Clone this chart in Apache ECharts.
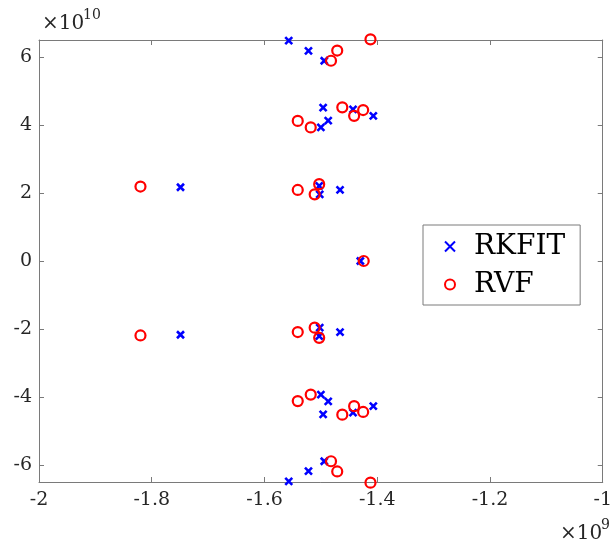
<!DOCTYPE html>
<html>
<head>
<meta charset="utf-8">
<script src="https://cdn.jsdelivr.net/npm/echarts@6/dist/echarts.min.js"></script>
<style>
  html, body { margin: 0; padding: 0; background: #fff; }
  #chart { width: 615px; height: 545px; }
</style>
</head>
<body>
<div id="chart"></div>
<script>
// real part in units of 1e9, imaginary part in units of 1e10
const rkfitRe = [-1.557, -1.522, -1.494, -1.496, -1.443, -1.407, -1.487, -1.500,
  -1.749, -1.503, -1.502, -1.466, -1.430,
  -1.749, -1.503, -1.502, -1.466,
  -1.500, -1.487, -1.496, -1.443, -1.407, -1.494, -1.522, -1.557]
const rkfitIm = [6.48, 6.18, 5.89, 4.51, 4.46, 4.27, 4.13, 3.93,
  2.17, 2.21, 1.96, 2.09, 0,
  -2.17, -2.21, -1.96, -2.09,
  -3.93, -4.13, -4.51, -4.46, -4.27, -5.89, -6.18, -6.48]

const rvfRe = [-1.412, -1.471, -1.482, -1.462, -1.425, -1.441, -1.541, -1.518,
  -1.820, -1.541, -1.503, -1.511, -1.424,
  -1.820, -1.541, -1.503, -1.511,
  -1.518, -1.541, -1.462, -1.425, -1.441, -1.482, -1.471, -1.412]
const rvfIm = [6.52, 6.19, 5.89, 4.52, 4.44, 4.27, 4.12, 3.93,
  2.19, 2.09, 2.26, 1.96, 0,
  -2.19, -2.09, -2.26, -1.96,
  -3.93, -4.12, -4.52, -4.44, -4.27, -5.89, -6.19, -6.52]

const xMin = -2, xMax = -1, xStep = 0.2
const yMin = -6.5, yMax = 6.5
const seriesNames = ['RKFIT', 'RVF']

const FONT = 'DejaVu Serif'
const axisGray = '#7a7a7a'
const textDark = '#262626'

const chart = echarts.init(document.getElementById('chart'))

function xAxisDef(pos, showLabel) {
  return {
    type: 'value', position: pos, min: xMin, max: xMax, interval: xStep,
    axisLine: { show: true, onZero: false, lineStyle: { color: axisGray, width: 1 } },
    axisTick: { show: true, inside: true, length: 5, lineStyle: { color: axisGray } },
    splitLine: { show: false },
    axisLabel: {
      show: showLabel, margin: 9, fontFamily: FONT, fontSize: 19, color: textDark,
      formatter: v => String(+v.toFixed(1))
    }
  }
}

function yAxisDef(pos, showLabel) {
  return {
    type: 'value', position: pos, min: yMin, max: yMax, splitNumber: 6,
    axisLine: { show: true, onZero: false, lineStyle: { color: axisGray, width: 1 } },
    axisTick: { show: true, inside: true, length: 5, lineStyle: { color: axisGray } },
    splitLine: { show: false },
    axisLabel: {
      show: showLabel, margin: 7, fontFamily: FONT, fontSize: 19, color: textDark,
      showMinLabel: false, showMaxLabel: false,
      formatter: v => (Math.abs(v % 2) < 1e-9 ? String(v) : '')
    }
  }
}

const option = {
  animation: false,
  backgroundColor: '#fff',
  grid: { left: 39, right: 7, top: 40, bottom: 63 },
  xAxis: [xAxisDef('bottom', true), xAxisDef('top', false)],
  yAxis: [yAxisDef('left', true), yAxisDef('right', false)],
  legend: {
    data: seriesNames,
    orient: 'vertical',
    left: 423, top: 225,
    padding: [7, 15, 6, 21],
    itemGap: 9,
    itemWidth: 10, itemHeight: 10,
    backgroundColor: '#fff',
    borderColor: axisGray, borderWidth: 1, borderRadius: 0,
    textStyle: { fontFamily: FONT, fontSize: 28, lineHeight: 29, color: '#000', padding: [0, 0, 0, 14] }
  },
  series: [
    {
      name: seriesNames[0], type: 'scatter', clip: false,
      symbol: 'path://M0,0L10,10M10,0L0,10', symbolSize: 7,
      itemStyle: { color: '#0000ff', borderColor: '#0000ff', borderWidth: 2.6, opacity: 1 },
      data: rkfitRe.map((x, i) => [x, rkfitIm[i]])
    },
    {
      name: seriesNames[1], type: 'scatter', clip: false,
      symbol: 'circle', symbolSize: 10,
      itemStyle: { color: 'rgba(255,255,255,0)', borderColor: '#ff0000', borderWidth: 2.2, opacity: 1 },
      data: rvfRe.map((x, i) => [x, rvfIm[i]])
    }
  ],
  graphic: [
    { type: 'text', left: 42, top: 14, style: { text: '×10', font: '20px "DejaVu Serif"', fill: textDark } },
    { type: 'text', left: 83, top: 8, style: { text: '10', font: '14px "DejaVu Serif"', fill: textDark } },
    { type: 'text', left: 560, top: 524, style: { text: '×10', font: '20px "DejaVu Serif"', fill: textDark } },
    { type: 'text', left: 601, top: 518, style: { text: '9', font: '14px "DejaVu Serif"', fill: textDark } }
  ]
}

chart.setOption(option)
</script>
</body>
</html>
